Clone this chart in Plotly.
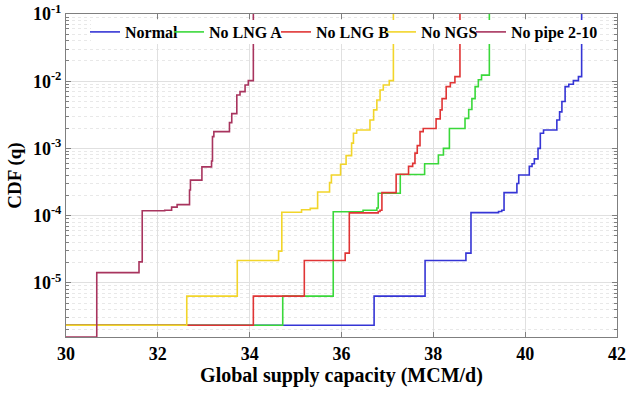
import plotly.graph_objects as go

# ---- data (step points: capacity at which the CDF jumps, CDF value after the jump) ----
normal_x = [30, 36.71, 37.82, 38.71, 38.82, 39.42, 39.49, 39.54, 39.82, 39.86, 40.09, 40.15, 40.20,
            40.28, 40.33, 40.40, 40.69, 40.75, 40.80, 40.87, 40.95, 41.05, 41.16, 41.23]
normal_y = [2.34e-6, 6.34e-6, 2.15e-5, 2.77e-5, 1.11e-4, 1.15e-4, 1.2e-4, 2.2e-4, 3.0e-4, 4.03e-4,
            5.4e-4, 5.9e-4, 7.0e-4, 1.0e-3, 1.68e-3, 1.88e-3, 2.65e-3, 3.5e-3, 5.0e-3, 8.3e-3,
            9.0e-3, 1.02e-2, 1.17e-2, 1.0]

lnga_x = [30, 34.72, 35.82, 36.47, 36.77, 36.80, 37.28, 37.81, 38.11, 38.22, 38.35, 38.69, 38.77,
          38.84, 38.91, 38.98, 39.05, 39.22]
lnga_y = [2.34e-6, 6.34e-6, 1.14e-4, 1.2e-4, 1.3e-4, 2.15e-4, 4.1e-4, 5.9e-4, 8.0e-4, 1.0e-3,
          1.98e-3, 2.8e-3, 3.8e-3, 5.5e-3, 8.3e-3, 1.05e-2, 1.23e-2, 1.0]

lngb_x = [30, 34.08, 35.19, 36.08, 36.17, 36.80, 36.84, 36.88, 37.19, 37.46, 37.55, 37.60, 37.65,
          37.71, 37.78, 38.06, 38.15, 38.19, 38.28, 38.37, 38.47, 38.58]
lngb_y = [2.34e-6, 6.34e-6, 2.15e-5, 2.77e-5, 1.10e-4, 1.15e-4, 1.2e-4, 2.2e-4, 4.13e-4, 5.4e-4,
          6.0e-4, 8.5e-4, 1.1e-3, 1.78e-3, 1.98e-3, 2.75e-3, 3.74e-3, 5.5e-3, 8.3e-3, 9.5e-3,
          1.17e-2, 1.0]

ngs_x = [30, 32.63, 33.73, 34.63, 34.70, 35.13, 35.32, 35.48, 35.74, 35.78, 35.98, 36.10, 36.22,
         36.26, 36.33, 36.62, 36.70, 36.77, 36.84, 36.91, 37.04, 37.13]
ngs_y = [2.34e-6, 6.34e-6, 2.15e-5, 2.96e-5, 1.12e-4, 1.22e-4, 1.28e-4, 2.25e-4, 3.1e-4, 4.03e-4,
         5.82e-4, 7.8e-4, 1.2e-3, 1.68e-3, 1.88e-3, 2.65e-3, 3.74e-3, 5.26e-3, 7.4e-3, 8.8e-3,
         1.02e-2, 1.0]

pipe_x = [30, 30.67, 31.59, 31.66, 32.15, 32.30, 32.42, 32.69, 32.71, 32.96, 33.17, 33.19, 33.22,
          33.56, 33.61, 33.72, 33.79, 33.90, 33.97, 34.08]
pipe_y = [1.56e-6, 1.42e-5, 2.05e-5, 1.18e-4, 1.2e-4, 1.34e-4, 1.46e-4, 2.41e-4, 3.37e-4, 5.31e-4,
          6.5e-4, 1.5e-3, 1.78e-3, 2.42e-3, 3.29e-3, 6.25e-3, 7.0e-3, 8.8e-3, 1.02e-2, 1.0]

series_names = ["Normal", "No LNG A", "No LNG B", "No NGS", "No pipe 2-10"]
series_x = [normal_x, lnga_x, lngb_x, ngs_x, pipe_x]
series_y = [normal_y, lnga_y, lngb_y, ngs_y, pipe_y]
series_colors = ["#3535d5", "#3ad83a", "#e03535", "#f2d52a", "#a8345e"]

x_ticks = [30, 32, 34, 36, 38, 40, 42]
y_ticks = [1e-5, 1e-4, 1e-3, 1e-2, 1e-1]
y_ticktext = ["10<sup>-5</sup>", "10<sup>-4</sup>", "10<sup>-3</sup>", "10<sup>-2</sup>", "10<sup>-1</sup>"]

FONT = "Liberation Serif"

# page geometry (px)
W, H = 627, 393
ML, MR, MT, MB = 66, 10, 14, 56
PW, PH = W - ML - MR, H - MT - MB

def px_x(p):
    return (p - ML) / PW

def px_y(p):
    return (H - MB - p) / PH

# left edge (px) of each legend entry, one legend per series
legend_left_px = [85, 169, 276, 381, 471]
legend_mid_px = 32

fig = go.Figure()
legend_layouts = {}
for i, (name, xs, ys, col) in enumerate(zip(series_names, series_x, series_y, series_colors)):
    lname = "legend" if i == 0 else "legend%d" % (i + 1)
    fig.add_trace(go.Scatter(x=xs, y=ys, mode="lines", name="<b>" + name + "</b>",
                             line_shape="hv", line=dict(color=col, width=1.6),
                             legend=lname))
    legend_layouts[lname] = dict(x=px_x(legend_left_px[i]), xanchor="left",
                                 y=px_y(legend_mid_px), yanchor="middle",
                                 bgcolor="rgba(0,0,0,0)", borderwidth=0,
                                 font=dict(family=FONT, size=16, color="black"),
                                 itemwidth=30, orientation="h")

axis_common = dict(showline=True, linecolor="#7f7f7f", linewidth=1, mirror="ticks",
                   ticks="inside", ticklen=5, tickcolor="#7f7f7f", automargin=False,
                   showgrid=True, gridcolor="#e0e0e0", gridwidth=1, zeroline=False,
                   tickfont=dict(family=FONT, size=18, color="black"))

fig.update_xaxes(range=[30, 42], tickvals=x_ticks,
                 ticktext=["<b>%d</b>" % v for v in x_ticks],
                 title=dict(text="<b>Global supply capacity (MCM/d)</b>",
                            font=dict(family=FONT, size=20, color="black"), standoff=4),
                 **axis_common)
fig.update_yaxes(type="log", range=[-5.806, -1], tickvals=y_ticks,
                 ticktext=["<b>" + t + "</b>" for t in y_ticktext],
                 title=dict(text="<b>CDF (q)</b>",
                            font=dict(family=FONT, size=19, color="black"), standoff=6),
                 minor=dict(dtick="D1", showgrid=True, gridcolor="#e8e8e8", griddash="dot",
                            ticks="inside", ticklen=3, tickcolor="#7f7f7f"),
                 **axis_common)

# white legend box (covers grid and lines like the original legend background)
fig.add_shape(type="rect", xref="paper", yref="paper", layer="above",
              x0=px_x(91), x1=px_x(600), y0=px_y(44), y1=px_y(20),
              fillcolor="white", line=dict(width=0))

fig.update_layout(
    width=W, height=H,
    margin=dict(l=ML, r=MR, t=MT, b=MB, autoexpand=False),
    plot_bgcolor="white", paper_bgcolor="white",
    font=dict(family=FONT, color="black"),
    showlegend=True,
    **legend_layouts,
)

fig.write_html("out.html", config={"displayModeBar": False},
               post_script="document.body.style.margin='0';")
